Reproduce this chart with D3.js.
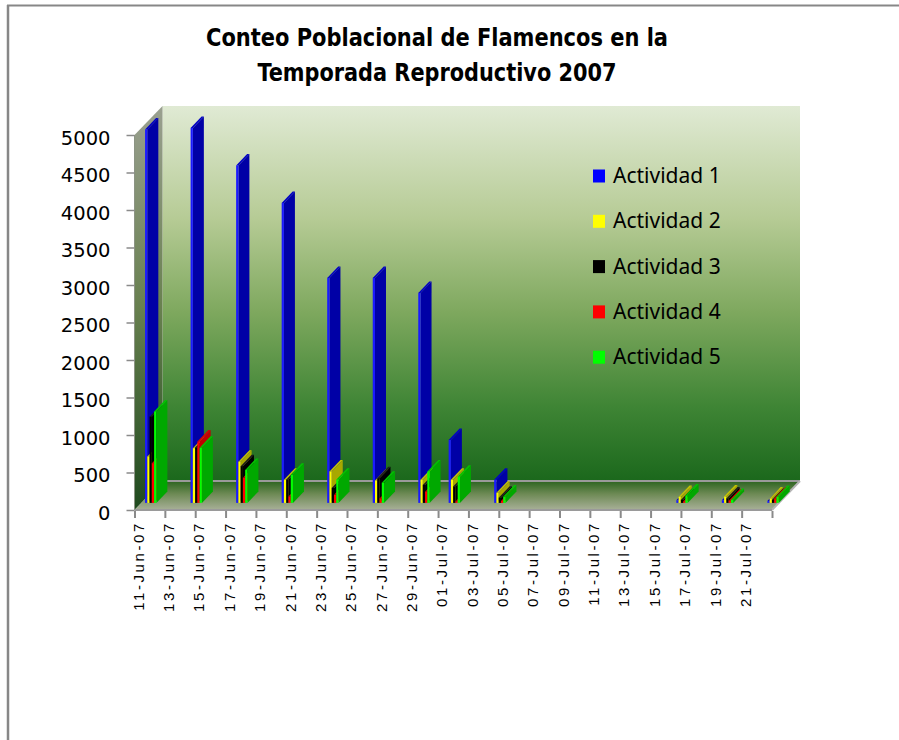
<!DOCTYPE html>
<html>
<head>
<meta charset="utf-8">
<script src="https://cdn.jsdelivr.net/npm/d3@7"></script>
<style>
  body { margin: 0; background: #fff; }
  svg { display: block; }
</style>
</head>
<body>
<svg id="canvas" width="899" height="740"></svg>
<script>
// datos
const fechas = ["2007-06-11", "2007-06-14", "2007-06-17", "2007-06-20", "2007-06-23", "2007-06-26",
                "2007-06-29", "2007-07-01", "2007-07-04", "2007-07-16", "2007-07-19", "2007-07-22"]
const actividad1 = [4980, 5000, 4500, 4000, 3000, 3000, 2800, 840, 310, 35, 35, 25]
const actividad2 = [620, 730, 550, 310, 420, 300, 310, 310, 135, 80, 85, 60]
const actividad3 = [1150, 740, 490, 310, 200, 330, 240, 220, 70, 40, 60, 40]
const actividad4 = [530, 820, 335, 85, 107, 60, 150, 20, 25, 20, 30, 60]
const actividad5 = [1220, 735, 440, 375, 310, 270, 420, 350, 85, 100, 40, 80]
const series = ["Actividad 1", "Actividad 2", "Actividad 3", "Actividad 4", "Actividad 5"]
const yTicks = [0, 500, 1000, 1500, 2000, 2500, 3000, 3500, 4000, 4500, 5000]
const titulo = ["Conteo Poblacional de Flamencos en la", "Temporada Reproductivo 2007"]

const valores = [actividad1, actividad2, actividad3, actividad4, actividad5]

const COLORS = {
    front: ["#1a1aff", "#ffff00", "#000000", "#ff0000", "#00ff00"],
    side:  ["#0000a6", "#a8a800", "#000000", "#c00000", "#00a800"],
    top:   ["#0000c4", "#c4c400", "#1c1c1c", "#d80000", "#00c400"],
    legend: ["#0000ff", "#ffff00", "#000000", "#ff0000", "#00ff00"]
}

const parse = d3.timeParse("%Y-%m-%d")

// plano frontal y profundidad del grafico 3d
const depthX = 28
const depthY = -29
const barZ0 = 0.245
const barDX = 11
const barDY = -11.5

let svg = d3.select("#canvas")

const xScale = d3.scaleTime()
    .domain([parse("2007-06-11"), parse("2007-07-23")])
    .range([134.5, 772])

const yScale = d3.scaleLinear()
    .domain([0, 5000])
    .range([510, 135])

const serieScale = d3.scaleBand()
    .domain(series)
    .range([3.7, 3.7 + 5 * 2.26])

const x0 = xScale.range()[0], x1 = xScale.range()[1]
const yTop = yScale(5000), yBase = yScale(0)

// degradados
let defs = svg.append("defs")

let gWall = defs.append("linearGradient").attr("id", "wall")
    .attr("x1", 0).attr("y1", 0).attr("x2", 0).attr("y2", 1)
gWall.append("stop").attr("offset", "0%").attr("stop-color", "#e0ead4")
gWall.append("stop").attr("offset", "30%").attr("stop-color", "#b6cb95")
gWall.append("stop").attr("offset", "55%").attr("stop-color", "#7ea85e")
gWall.append("stop").attr("offset", "80%").attr("stop-color", "#3f8535")
gWall.append("stop").attr("offset", "100%").attr("stop-color", "#1b681c")

let gSide = defs.append("linearGradient").attr("id", "sidewall")
    .attr("x1", 0).attr("y1", 0).attr("x2", 0).attr("y2", 1)
gSide.append("stop").attr("offset", "0%").attr("stop-color", "#9aa090")
gSide.append("stop").attr("offset", "50%").attr("stop-color", "#68804f")
gSide.append("stop").attr("offset", "100%").attr("stop-color", "#1f4a1e")

let gFloor = defs.append("linearGradient").attr("id", "floor")
    .attr("x1", 0).attr("y1", 0).attr("x2", 0).attr("y2", 1)
gFloor.append("stop").attr("offset", "0%").attr("stop-color", "#2c6420")
gFloor.append("stop").attr("offset", "45%").attr("stop-color", "#6e8a55")
gFloor.append("stop").attr("offset", "100%").attr("stop-color", "#a8b098")

// marco
svg.append("line").attr("x1", 8).attr("y1", 5).attr("x2", 8).attr("y2", 740)
    .attr("stroke", "#878787").attr("stroke-width", 2.5)
svg.append("line").attr("x1", 7).attr("y1", 5.5).attr("x2", 899).attr("y2", 5.5)
    .attr("stroke", "#878787").attr("stroke-width", 2)

// titulo
svg.selectAll(".titulo")
    .data(titulo)
    .enter()
    .append("text")
    .attr("class", "titulo")
    .attr("x", 437)
    .attr("y", (d, i) => 46 + i * 35)
    .attr("text-anchor", "middle")
    .attr("textLength", (d, i) => i === 0 ? 462 : 359)
    .attr("lengthAdjust", "spacingAndGlyphs")
    .style("font-family", "'Liberation Sans Narrow', 'DejaVu Sans Condensed', sans-serif")
    .style("font-weight", "bold")
    .style("font-size", "25px")
    .style("fill", "#000")
    .text(d => d)

// paredes
svg.append("rect")
    .attr("x", x0 + depthX).attr("y", yTop + depthY)
    .attr("width", x1 - x0).attr("height", yBase - yTop)
    .attr("fill", "url(#wall)")

svg.append("polygon")
    .attr("points", [[x0, yTop], [x0 + depthX, yTop + depthY], [x0 + depthX, yBase + depthY], [x0, yBase]].join(" "))
    .attr("fill", "url(#sidewall)")

svg.append("polygon")
    .attr("points", [[x0, yBase], [x0 + depthX, yBase + depthY], [x1 + depthX, yBase + depthY], [x1, yBase]].join(" "))
    .attr("fill", "url(#floor)")

svg.append("line")
    .attr("x1", x0 + depthX).attr("y1", yBase + depthY)
    .attr("x2", x1 + depthX).attr("y2", yBase + depthY)
    .attr("stroke", "#9a9a9a").attr("stroke-width", 2)
svg.append("line")
    .attr("x1", x1 + depthX).attr("y1", yBase + depthY)
    .attr("x2", x1).attr("y2", yBase)
    .attr("stroke", "#b4b4b4").attr("stroke-width", 2)
svg.append("line")
    .attr("x1", x0).attr("y1", yBase)
    .attr("x2", x1).attr("y2", yBase)
    .attr("stroke", "#9a9a9a").attr("stroke-width", 2)
svg.append("line")
    .attr("x1", x0).attr("y1", yTop)
    .attr("x2", x0).attr("y2", yBase)
    .attr("stroke", "#8c9484").attr("stroke-width", 1)

// barras
const yBar = v => yScale(v) + depthY * barZ0
const bx = (f, s) => xScale(parse(f)) + serieScale(s) + depthX * barZ0

let barData = []
fechas.forEach((f, i) => {
    series.forEach((s, j) => {
        barData.push({ fecha: f, serie: s, j: j, v: valores[j][i] })
    })
})

let bars = svg.append("g").attr("id", "bars")
    .selectAll("g")
    .data(barData)
    .enter()
    .append("g")

bars.append("polygon")
    .attr("points", d => {
        let x = bx(d.fecha, d.serie) + serieScale.bandwidth()
        return [[x, yBar(d.v)], [x + barDX, yBar(d.v) + barDY], [x + barDX, yBar(0) + barDY], [x, yBar(0)]].join(" ")
    })
    .attr("fill", d => COLORS.side[d.j])

bars.append("polygon")
    .attr("points", d => {
        let x = bx(d.fecha, d.serie), w = serieScale.bandwidth(), y = yBar(d.v)
        return [[x, y], [x + w, y], [x + w + barDX, y + barDY], [x + barDX, y + barDY]].join(" ")
    })
    .attr("fill", d => COLORS.top[d.j])

bars.append("rect")
    .attr("x", d => bx(d.fecha, d.serie))
    .attr("y", d => yBar(d.v))
    .attr("width", serieScale.bandwidth())
    .attr("height", d => yBar(0) - yBar(d.v))
    .attr("fill", d => COLORS.front[d.j])

// eje y
let yAxis = d3.axisLeft(yScale)
    .tickValues(yTicks)
    .tickSize(8)
    .tickPadding(16)
    .tickFormat(d3.format("d"))

svg.append("g")
    .attr("id", "y-axis")
    .attr("transform", "translate(" + x0 + ",0)")
    .call(yAxis)
    .call(g => g.select(".domain").remove())
    .call(g => g.selectAll("line").attr("stroke", "#8a8a8a").attr("stroke-width", 1.5))
    .call(g => g.selectAll("text")
        .attr("dy", "0.32em")
        .attr("transform", "translate(0,3)")
        .style("font-family", "'DejaVu Sans', sans-serif")
        .style("font-size", "19.5px")
        .style("fill", "#000"))

// eje x
let xTickDates = d3.timeDay.range(parse("2007-06-11"), parse("2007-07-22"), 2)
let xAxis = d3.axisBottom(xScale)
    .tickValues(xTickDates.concat([parse("2007-07-23")]))
    .tickSize(7)
    .tickFormat("")

svg.append("g")
    .attr("id", "x-axis")
    .attr("transform", "translate(0," + (yBase + 1) + ")")
    .call(xAxis)
    .call(g => g.select(".domain").remove())
    .call(g => g.selectAll("line").attr("stroke", "#8a8a8a").attr("stroke-width", 2))

const fmt = d3.timeFormat("%d-%b-%y")
svg.append("g")
    .attr("id", "x-labels")
    .selectAll("text")
    .data(xTickDates)
    .enter()
    .append("text")
    .attr("transform", d => "translate(" + (xScale(d) + 4) + "," + 521 + ") rotate(-90)")
    .attr("text-anchor", "end")
    .attr("dy", "0.35em")
    .style("font-family", "'Liberation Sans', Arial, sans-serif")
    .style("font-size", "15px")
    .style("letter-spacing", "2.6px")
    .style("fill", "#000")
    .text(d => fmt(d))

// leyenda
let legend = svg.append("g").attr("id", "legend")
    .selectAll("g")
    .data(series)
    .enter()
    .append("g")
    .attr("transform", (d, i) => "translate(593," + (176 + i * 45.3) + ")")

legend.append("rect")
    .attr("x", 0).attr("y", -6.5)
    .attr("width", 12).attr("height", 13)
    .attr("fill", (d, i) => COLORS.legend[i])

legend.append("text")
    .attr("x", 20)
    .attr("y", 7)
    .style("font-family", "'Noto Sans', sans-serif")
    .style("font-size", "21px")
    .style("fill", "#000")
    .text(d => d)
</script>
</body>
</html>
